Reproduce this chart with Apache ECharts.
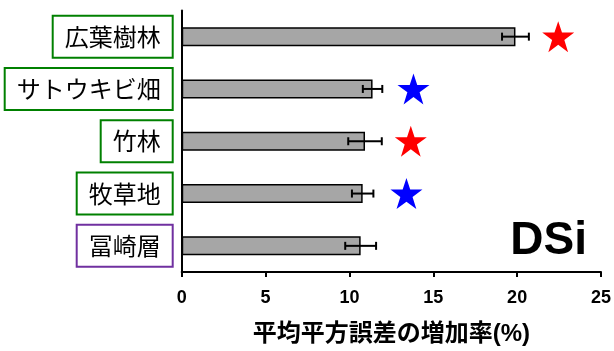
<!DOCTYPE html>
<html>
<head>
<meta charset="utf-8">
<script src="https://cdn.jsdelivr.net/npm/echarts@6/dist/echarts.min.js"></script>
<style>
html,body{margin:0;padding:0;background:#fff;}
#chart{width:614px;height:351px;}
</style>
</head>
<body>
<div id="chart"></div>
<script>
// Data
var categories = ['広葉樹林', 'サトウキビ畑', '竹林', '牧草地', '冨崎層'];
var categoryGroup = ['g', 'g', 'g', 'g', 'p'];
var values = [19.9, 11.38, 10.93, 10.79, 10.67];
var errors = [0.8, 0.58, 1.0, 0.64, 0.92];
var starPositions = [22.45, 13.82, 13.66, 13.4, null];
var starColors = ['#ff0000', '#0000ff', '#ff0000', '#0000ff', null];
var xTicks = [0, 5, 10, 15, 20, 25];

var STAR = 'path://M50,0 L61.8,35.1 L100,35.1 L69.1,57.9 L80.9,95.1 L50,72.4 L19.1,95.1 L30.9,57.9 L0,35.1 L38.2,35.1 Z';

var chart = echarts.init(document.getElementById('chart'));

var errData = categories.map(function (c, i) {
  return [values[i] - errors[i], values[i] + errors[i], i];
});
var starData = [];
categories.forEach(function (c, i) {
  if (starPositions[i] != null) {
    starData.push({ value: [starPositions[i], i], itemStyle: { color: starColors[i], opacity: 1 } });
  }
});

var option = {
  animation: false,
  backgroundColor: '#fff',
  title: {
    text: 'DSi',
    right: 27,
    top: 218,
    padding: 0,
    textStyle: { fontSize: 46, fontWeight: 'bold', color: '#000', fontFamily: 'Liberation Sans, Arial, sans-serif' }
  },
  grid: { left: 181.7, right: 10.7, top: 10.5, bottom: 75.5, containLabel: false },
  xAxis: {
    type: 'value',
    min: xTicks[0],
    max: xTicks[xTicks.length - 1],
    interval: xTicks[1] - xTicks[0],
    name: '平均平方誤差の増加率(%)',
    nameLocation: 'middle',
    nameGap: 50,
    nameTextStyle: { fontSize: 24, fontWeight: 'bold', color: '#000', fontFamily: 'Liberation Sans, Noto Sans CJK JP, sans-serif' },
    axisLine: { show: true, lineStyle: { color: '#000', width: 2 } },
    axisTick: { show: true, length: 5, lineStyle: { color: '#000', width: 2 } },
    axisLabel: { margin: 17, fontSize: 18, fontWeight: 'bold', color: '#000', fontFamily: 'Liberation Sans, Arial, sans-serif' },
    splitLine: { show: false }
  },
  yAxis: {
    type: 'category',
    data: categories,
    inverse: true,
    axisLine: { show: true, lineStyle: { color: '#000', width: 2 } },
    axisTick: { show: false },
    axisLabel: {
      margin: 10,
      formatter: function (v, i) { return '{' + categoryGroup[i] + '|' + v + '}'; },
      rich: {
        g: { fontSize: 24, lineHeight: 26, color: '#000', fontFamily: 'Noto Sans CJK JP', borderColor: '#008000', borderWidth: 2, padding: [8, 11, 8, 11], backgroundColor: '#fff' },
        p: { fontSize: 24, lineHeight: 26, color: '#000', fontFamily: 'Noto Sans CJK JP', borderColor: '#7030a0', borderWidth: 2, padding: [8, 11, 8, 11], backgroundColor: '#fff' }
      }
    }
  },
  series: [
    {
      type: 'bar',
      data: values,
      barWidth: 19,
      itemStyle: { color: '#a6a6a6', borderColor: '#000', borderWidth: 1.5 },
      z: 2
    },
    {
      type: 'custom',
      data: errData,
      z: 3,
      renderItem: function (params, api) {
        var lo = api.coord([api.value(0), api.value(2)]);
        var hi = api.coord([api.value(1), api.value(2)]);
        var cap = 4;
        var style = { stroke: '#000', lineWidth: 2 };
        return {
          type: 'group',
          children: [
            { type: 'line', shape: { x1: lo[0], y1: lo[1], x2: hi[0], y2: hi[1] }, style: style },
            { type: 'line', shape: { x1: lo[0], y1: lo[1] - cap, x2: lo[0], y2: lo[1] + cap }, style: style },
            { type: 'line', shape: { x1: hi[0], y1: hi[1] - cap, x2: hi[0], y2: hi[1] + cap }, style: style }
          ]
        };
      }
    },
    {
      type: 'scatter',
      data: starData,
      symbol: STAR,
      symbolSize: [32, 31],
      z: 4
    }
  ]
};
chart.setOption(option);
</script>
</body>
</html>
